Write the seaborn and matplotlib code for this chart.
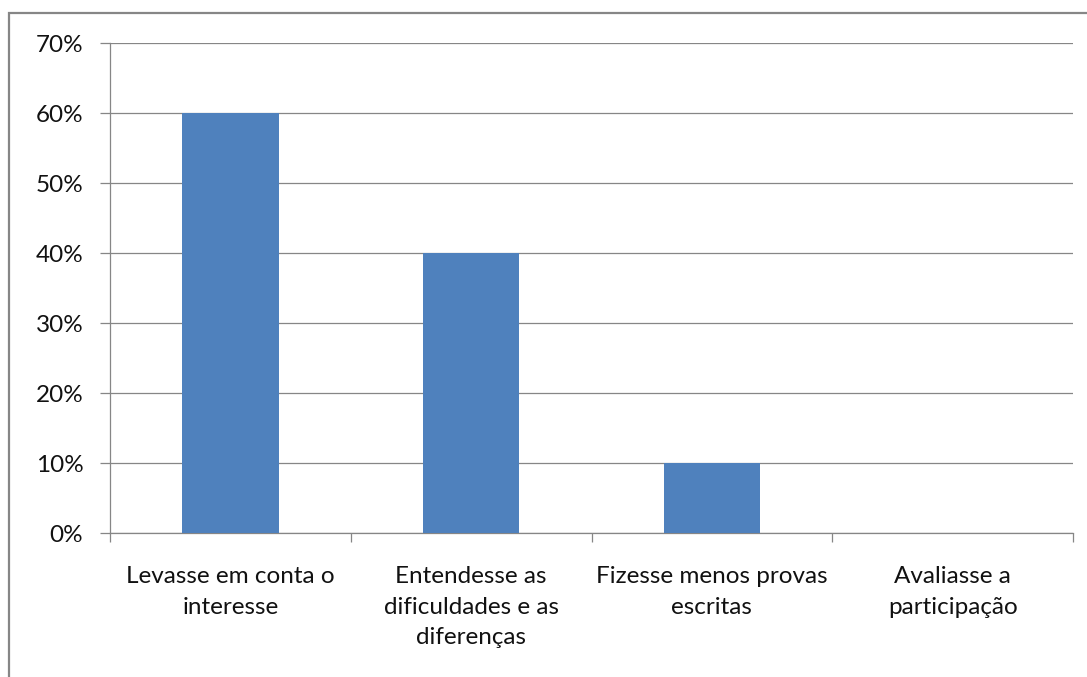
import matplotlib
matplotlib.use("Agg")
import matplotlib.pyplot as plt
from matplotlib.patches import Rectangle
from matplotlib.ticker import PercentFormatter, MultipleLocator
import seaborn as sns
import pandas as pd

categories = [
    "Levasse em conta o\ninteresse",
    "Entendesse as\ndificuldades e as\ndiferenças",
    "Fizesse menos provas\nescritas",
    "Avaliasse a\nparticipação",
]
values = [60, 40, 10, 0]

df = pd.DataFrame({"categoria": categories, "percentagem": values})

sns.set_style("white")
plt.rcParams["font.family"] = ["Lato", "DejaVu Sans"]

GREY = "#868686"
BAR = "#4F81BD"
TEXT = "#111111"

fig = plt.figure(figsize=(10.87, 6.77), dpi=100)
W, H = 1087, 677
ax = fig.add_axes([110 / W, 1 - 533 / H, (1073 - 110) / W, (533 - 43) / H])

sns.barplot(data=df, x="categoria", y="percentagem", color=BAR,
            width=0.4, saturation=1, linewidth=0, ax=ax, zorder=3)

ax.set_xlim(-0.5, len(categories) - 0.5)
ax.set_ylim(0, 70)
ax.yaxis.set_major_locator(MultipleLocator(10))
ax.yaxis.set_major_formatter(PercentFormatter(decimals=0))
ax.grid(axis="y", color=GREY, linewidth=0.9, zorder=0)
ax.set_axisbelow(True)
ax.set_xlabel("")
ax.set_ylabel("")

# category boundary ticks
ax.set_xticks([i - 0.5 for i in range(len(categories) + 1)], minor=True)
ax.set_xticks(range(len(categories)))
ax.set_xticklabels(categories, fontsize=17.5, color=TEXT,
                   linespacing=1.55, va="top")
ax.tick_params(axis="x", which="major", bottom=False, length=0, pad=24)
ax.tick_params(axis="x", which="minor", bottom=True, length=6.5, width=0.9,
               color=GREY, direction="out")
ax.tick_params(axis="y", left=True, length=7.2, width=0.9, color=GREY,
               direction="out", labelsize=17.5, labelcolor=TEXT, pad=12)

for side in ["top", "right"]:
    ax.spines[side].set_visible(False)
for side in ["left", "bottom"]:
    ax.spines[side].set_color(GREY)
    ax.spines[side].set_linewidth(0.9)

# chart area frame
fig.patches.append(Rectangle((9 / W, -0.1), 1.2, 1 - 13 / H + 0.1,
                             transform=fig.transFigure, fill=False,
                             edgecolor=GREY, linewidth=1.6, zorder=0))

fig.savefig("out.png", dpi=100, facecolor="white")
